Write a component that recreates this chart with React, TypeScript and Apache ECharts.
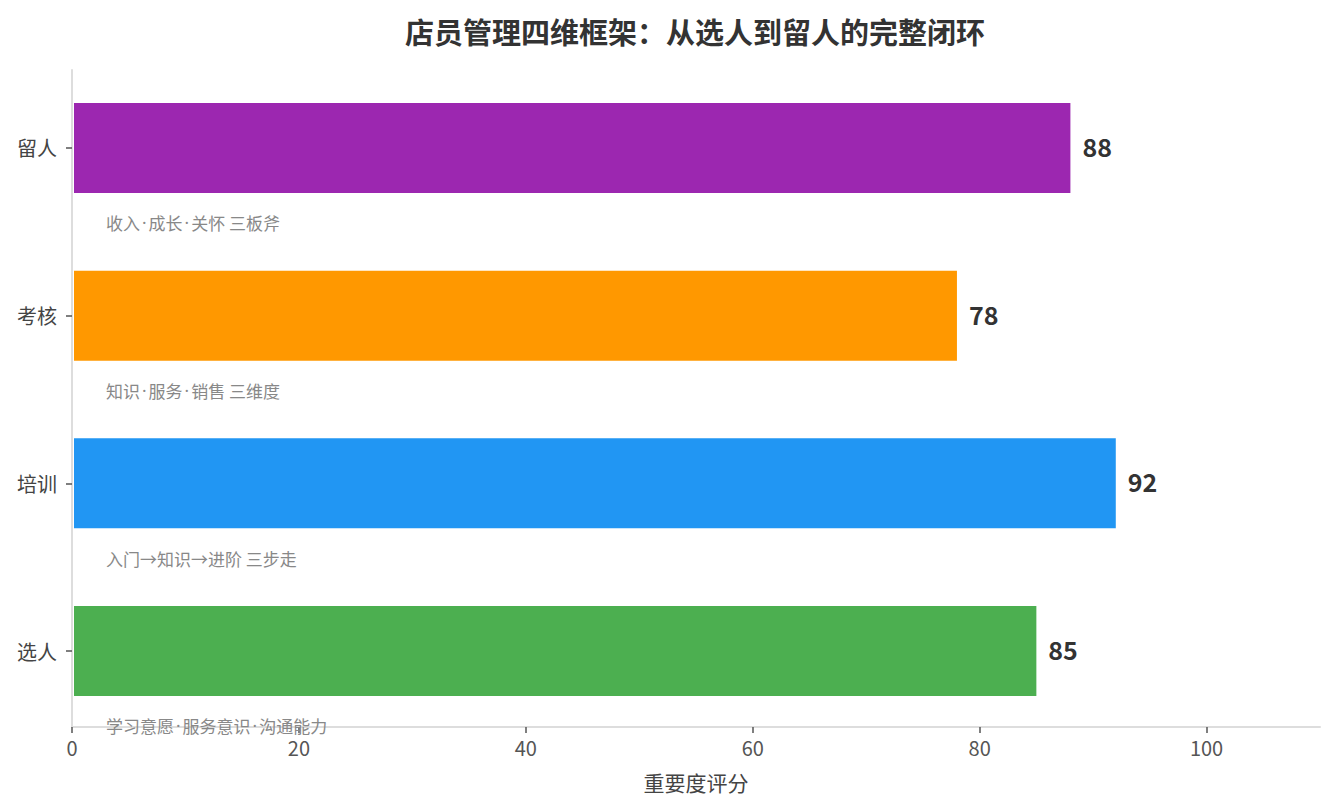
import * as echarts from "echarts";
import React, { useEffect, useRef } from "react";

const categories = ["选人", "培训", "考核", "留人"];
const scores = [85, 92, 78, 88];
const notes = [
  "学习意愿·服务意识·沟通能力",
  "入门→知识→进阶 三步走",
  "知识·服务·销售 三维度",
  "收入·成长·关怀 三板斧",
];
const colors = ["#4CAF50", "#2196F3", "#FF9800", "#9C27B0"];
const xTicks = [0, 20, 40, 60, 80, 100];

const FONT = "'Noto Sans CJK SC', 'Noto Sans', sans-serif";

const App: React.FC = () => {
  const chartRef = useRef<HTMLDivElement | null>(null);

  useEffect(() => {
    const chart = echarts.init(chartRef.current, null, { renderer: "svg" });

    chart.setOption({
      animation: false,
      backgroundColor: "#ffffff",
      textStyle: { fontFamily: FONT },
      title: {
        text: "店员管理四维框架：从选人到留人的完整闭环",
        left: 690,
        top: 11,
        textAlign: "center",
        textStyle: { fontSize: 29, fontWeight: "bold", color: "#333333", fontFamily: FONT },
      },
      grid: { left: 72, right: 15, top: 70, bottom: 82, containLabel: false },
      xAxis: {
        type: "value",
        min: 0,
        max: 110,
        name: "重要度评分",
        nameLocation: "middle",
        nameGap: 44,
        nameTextStyle: { fontSize: 21, color: "#444444", fontFamily: FONT },
        axisLine: { show: true, onZero: false, lineStyle: { color: "#dddddd", width: 2 } },
        axisTick: { show: true, customValues: xTicks, length: 6, lineStyle: { color: "#555555", width: 1.5 } },
        axisLabel: { customValues: xTicks, margin: 10, fontSize: 20, color: "#555555", fontFamily: FONT },
        splitLine: { show: false },
      },
      yAxis: {
        type: "value",
        min: -0.453,
        max: 3.465,
        axisLine: { show: true, onZero: false, lineStyle: { color: "#dddddd", width: 2 } },
        axisTick: { show: true, customValues: [0, 1, 2, 3], length: 6, lineStyle: { color: "#555555", width: 1.5 } },
        axisLabel: {
          customValues: [0, 1, 2, 3],
          margin: 15,
          fontSize: 20,
          color: "#444444",
          fontFamily: FONT,
          formatter: (v: number) => categories[Math.round(v)] ?? "",
        },
        splitLine: { show: false },
      },
      series: [
        {
          type: "custom",
          encode: { x: 0, y: 1 },
          data: scores.map((s, i) => [s, i]),
          renderItem: (params: any, api: any) => {
            const val = api.value(0);
            const idx = api.value(1);
            const start = api.coord([0, idx]);
            const end = api.coord([val, idx]);
            const h = api.size([0, 0.537])[1];
            const notePos = api.coord([3, idx - 0.447]);
            return {
              type: "group",
              children: [
                {
                  type: "rect",
                  shape: { x: start[0] + 2, y: start[1] - h / 2, width: end[0] - start[0] - 2, height: h },
                  style: { fill: colors[params.dataIndex] },
                },
                {
                  type: "text",
                  x: end[0] + 12,
                  y: end[1] - 2,
                  style: {
                    text: String(val),
                    fill: "#333333",
                    font: `bold 25px ${FONT}`,
                    verticalAlign: "middle",
                    align: "left",
                  },
                },
                {
                  type: "text",
                  x: notePos[0],
                  y: notePos[1],
                  z2: 10,
                  style: {
                    text: notes[params.dataIndex].replace(/·/g, "{d|·}"),
                    fill: "#888888",
                    fontSize: 17,
                    fontFamily: FONT,
                    verticalAlign: "middle",
                    align: "left",
                    rich: {
                      d: {
                        fontSize: 17,
                        fontFamily: "'Noto Sans', sans-serif",
                        fill: "#888888",
                        padding: [0, 2],
                      },
                    },
                  },
                },
              ],
            };
          },
        },
      ],
    });

    return () => {
      chart.dispose();
    };
  }, []);

  return <div ref={chartRef} style={{ width: "1335px", height: "809px", margin: "-8px" }}></div>;
};

export default App;
